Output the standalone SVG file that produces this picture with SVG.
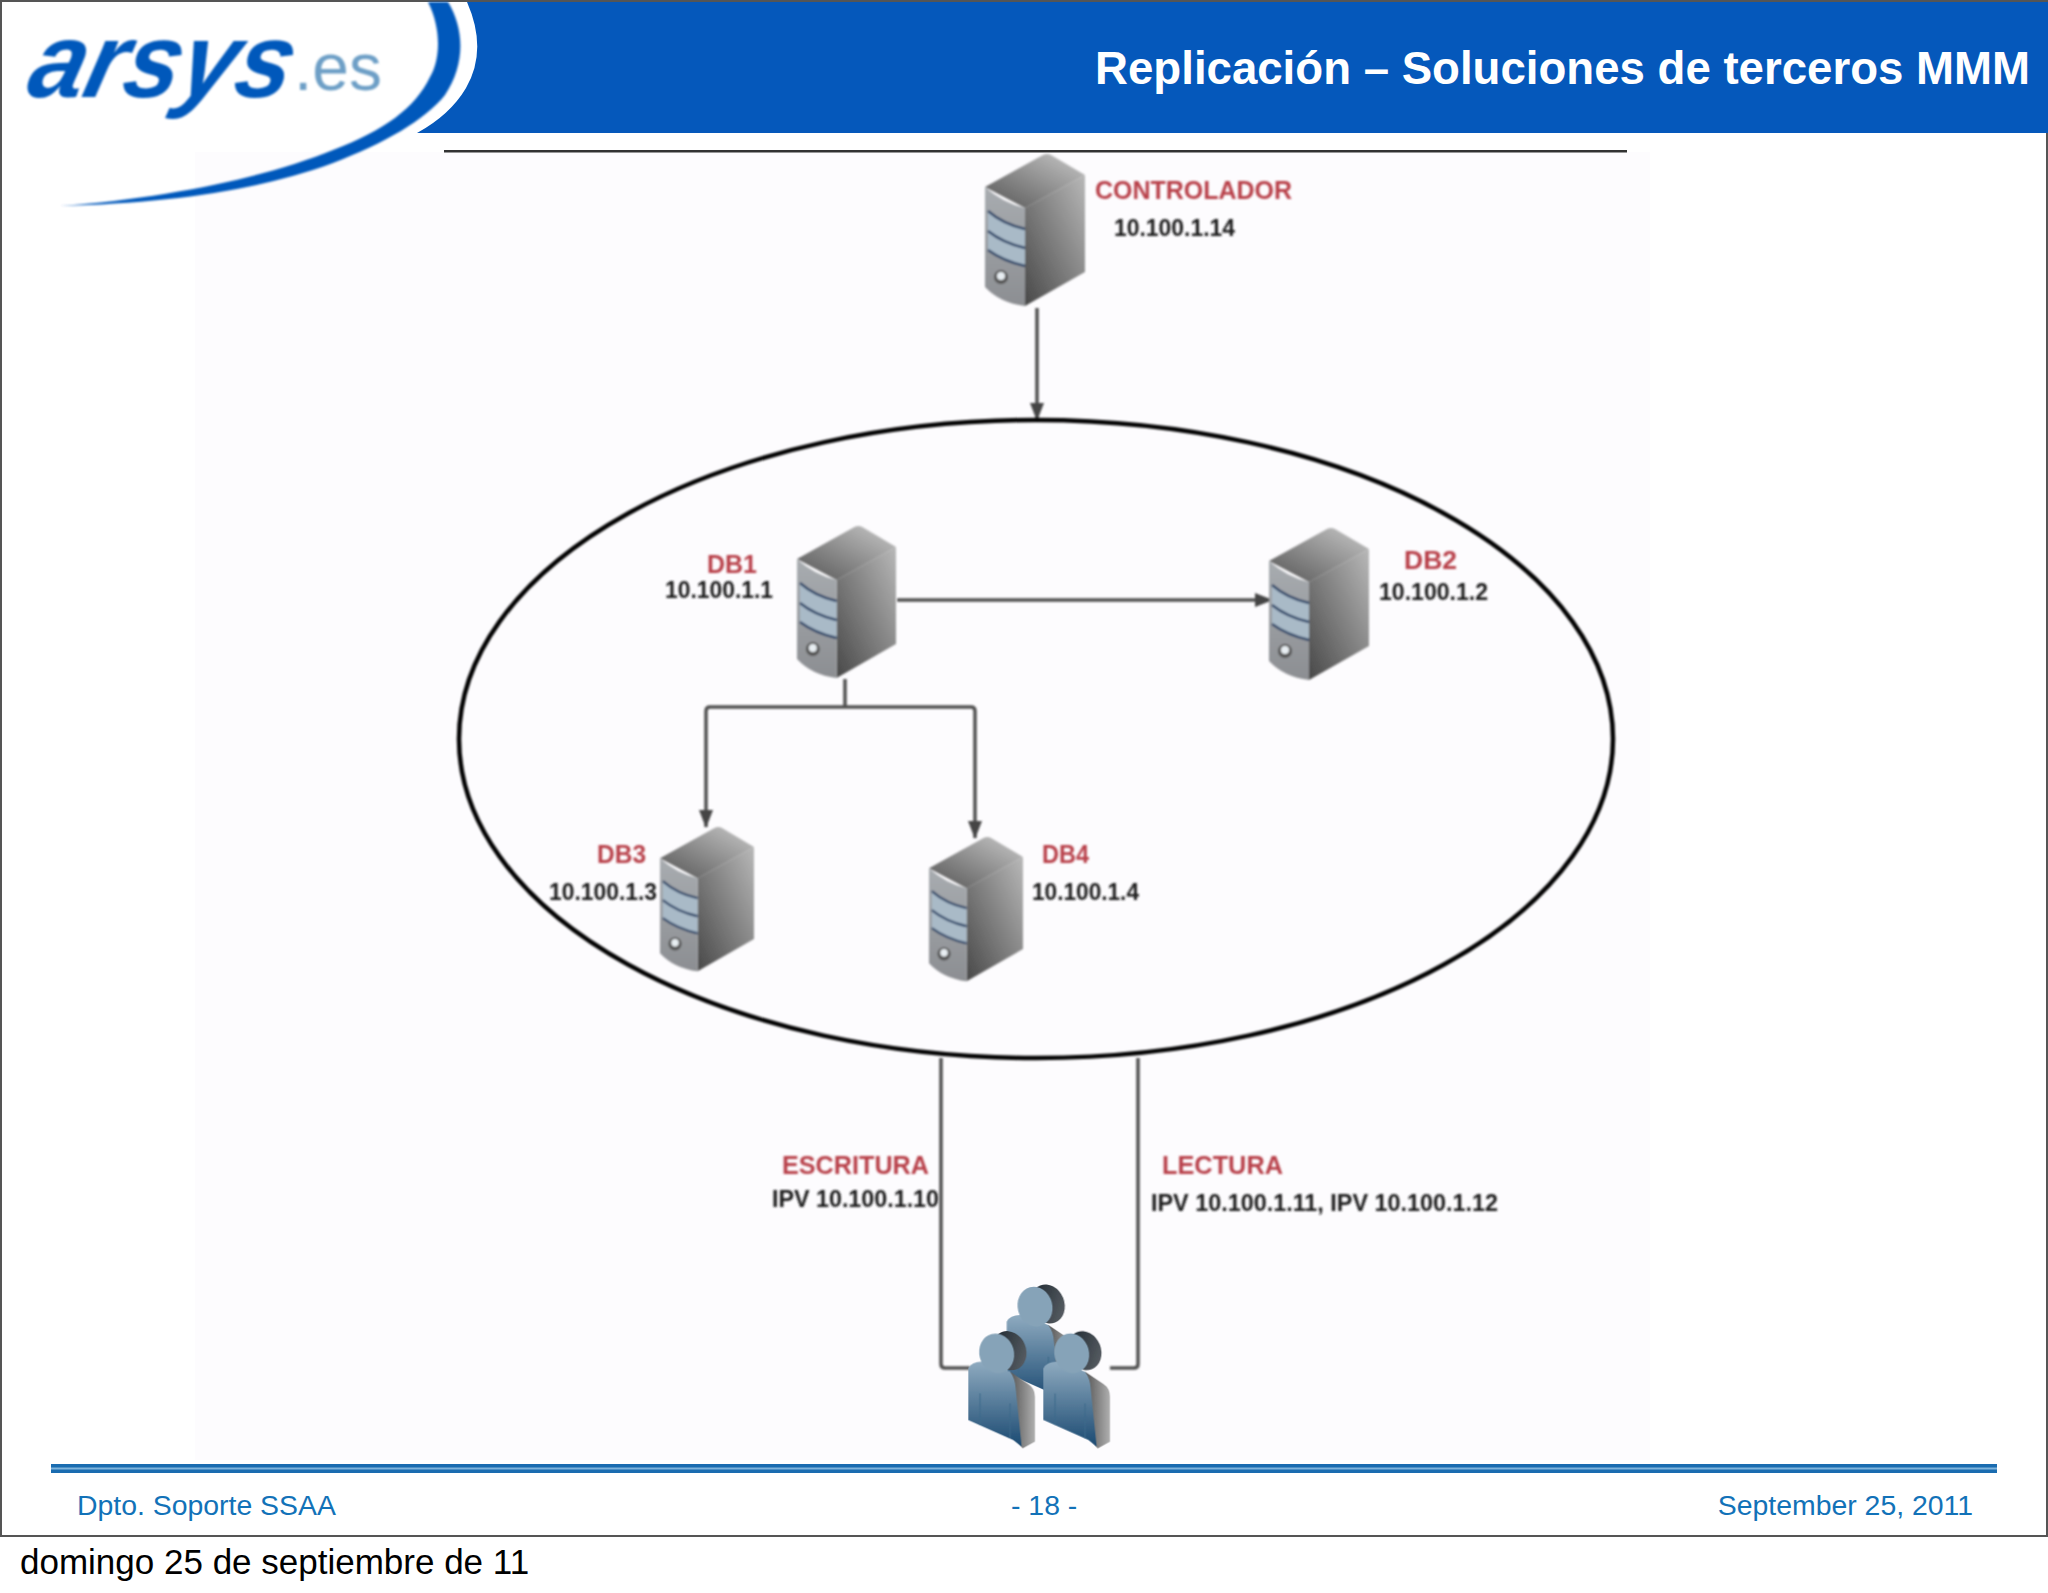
<svg xmlns="http://www.w3.org/2000/svg" xmlns:xlink="http://www.w3.org/1999/xlink" width="2048" height="1593" viewBox="0 0 2048 1593">
<style>
text{font-family:"Liberation Sans",Arial,sans-serif}
.r{fill:#b8404a;font-weight:700;font-size:26px}
.b{fill:#1c1c1c;font-weight:700;font-size:23px}
.f{fill:#1272b8;font-size:28.4px}
.c{fill:none;stroke:#505050;stroke-width:3.5;stroke-linejoin:round}
</style>
<defs>
<filter id="soft" x="-5%" y="-5%" width="110%" height="110%"><feGaussianBlur stdDeviation="0.8"/></filter>
<linearGradient id="top" x1="0" y1="1" x2="1" y2="0"><stop offset="0" stop-color="#555"/><stop offset="1" stop-color="#c8c8c8"/></linearGradient>
<linearGradient id="side" x1="1" y1="0" x2="0" y2="1"><stop offset="0" stop-color="#b8b8b8"/><stop offset="1" stop-color="#484848"/></linearGradient>
<linearGradient id="front" x1="0" y1="0" x2="0" y2="1"><stop offset="0" stop-color="#a8acb0"/><stop offset="1" stop-color="#8c8e92"/></linearGradient>
<linearGradient id="pf" x1="0" y1="0" x2="0" y2="1"><stop offset="0" stop-color="#8fabc0"/><stop offset="1" stop-color="#1b4a72"/></linearGradient>
<linearGradient id="ps" x1="0" y1="0" x2="1" y2="0"><stop offset="0" stop-color="#555"/><stop offset="1" stop-color="#b0b0b0"/></linearGradient>
<linearGradient id="ph" x1="0" y1="0" x2="1" y2="1"><stop offset="0" stop-color="#18232c"/><stop offset="1" stop-color="#60656a"/></linearGradient>
<marker id="arrow" viewBox="0 0 18 16" refX="17" refY="8" markerWidth="18" markerHeight="16" markerUnits="userSpaceOnUse" orient="auto"><path d="M0,1 L18,8 L0,15 Z" fill="#444"/></marker>
<g id="server">
<path d="M0,34 L58,2 Q62,0 66,2 L100,22 L40,55 Z" fill="url(#top)"/>
<path d="M40,55 L100,22 L100,119 L40,153 Z" fill="url(#side)"/>
<path d="M0,34 Q18,50 40,55 L40,153 Q15,150 0,134 Z" fill="url(#front)"/>
<path d="M3,58 Q18,71 40,76 L40,113 Q18,108 3,97 Z" fill="#a9bac7"/>
<path d="M3,58 Q18,71 40,76 M3,78 Q18,90 40,95 M3,97 Q18,108 40,113" fill="none" stroke="#2c4468" stroke-width="2.5"/>
<circle cx="16" cy="124" r="7" fill="#555"/><circle cx="16" cy="123" r="4" fill="#e8eef2"/>
</g>
<g id="person">
<ellipse cx="328" cy="272" rx="50" ry="60" transform="rotate(-22 328 272)" fill="url(#ph)"/>
<path d="M330,335 L385,372 Q405,385 405,410 L405,545 L368,565 L345,540 Z" fill="url(#ps)"/>
<path d="M205,325 Q215,305 245,305 L330,335 Q345,355 347,385 L365,560 L340,540 L205,480 Z" fill="url(#pf)"/>
<ellipse cx="290" cy="280" rx="52" ry="60" transform="rotate(-15 290 280)" fill="#86a3b8"/>
<path d="M240,400 V495 M330,430 V535" fill="none" stroke="#3d6a8c" stroke-width="5" opacity=".6"/>
</g>
</defs>
<rect width="2048" height="1593" fill="#fff"/>
<rect x="195" y="152" width="1455" height="1308" fill="#fdfcfe"/>
<g id="frame">
<rect x="1" y="1" width="2046" height="1535" fill="none" stroke="#555" stroke-width="2"/>
</g>
<g id="header">
<path d="M467,2 Q488,50 466,88 Q450,115 417,133 L2048,133 L2048,2 Z" fill="#0558bb"/>
<text x="2030" y="84" text-anchor="end" font-size="45.6" font-weight="700" fill="#fff">Replicación – Soluciones de terceros MMM</text>
<rect x="444" y="150" width="1183" height="2.5" fill="#333"/>
</g>
<g id="logo" filter="url(#soft)">
<path d="M428,2 C442,30 440,60 430,77 C415,108 385,130 333,150 C270,176 170,198 60,206 C170,203 260,190 333,163 C385,143 425,120 445,95 C465,65 465,30 448,2 Z" fill="#0558bb"/>
<text x="0" y="0" transform="translate(24,97) skewX(-14)" font-size="106" font-weight="700" font-style="italic" fill="#0558bb" textLength="262" lengthAdjust="spacingAndGlyphs">arsys</text>
<text x="294" y="90" font-size="66" fill="#6d9fc6" textLength="88" lengthAdjust="spacingAndGlyphs">.es</text>
</g>
<g id="connectors" filter="url(#soft)">
<path class="c" d="M1037,308 V420" marker-end="url(#arrow)"/>
<path class="c" d="M897,600 H1272" marker-end="url(#arrow)"/>
<path class="c" d="M845,679 V707"/>
<path class="c" d="M845,707 H710 Q706,707 706,711 V827" marker-end="url(#arrow)"/>
<path class="c" d="M845,707 H971 Q975,707 975,711 V838" marker-end="url(#arrow)"/>
<path class="c" d="M941,1058 V1364 Q941,1368 945,1368 H970"/>
<path class="c" d="M1138,1058 V1364 Q1138,1368 1134,1368 H1110"/>
</g>
<g id="ring" filter="url(#soft)">
<ellipse cx="1036" cy="739" rx="577" ry="319" fill="none" stroke="#050505" stroke-width="4.5"/>
</g>
<g id="node-controlador" filter="url(#soft)">
<use xlink:href="#server" href="#server" transform="translate(985,153)"/>
<text class="r" x="1095" y="199" textLength="197" lengthAdjust="spacingAndGlyphs">CONTROLADOR</text>
<text class="b" x="1114" y="236" textLength="121" lengthAdjust="spacingAndGlyphs">10.100.1.14</text>
</g>
<g id="node-db1" filter="url(#soft)">
<use xlink:href="#server" href="#server" transform="translate(797,525) scale(.99,1)"/>
<text class="r" x="707" y="573" textLength="50" lengthAdjust="spacingAndGlyphs">DB1</text>
<text class="b" x="665" y="598" textLength="108" lengthAdjust="spacingAndGlyphs">10.100.1.1</text>
</g>
<g id="node-db2" filter="url(#soft)">
<use xlink:href="#server" href="#server" transform="translate(1269,527)"/>
<text class="r" x="1404" y="569" textLength="53" lengthAdjust="spacingAndGlyphs">DB2</text>
<text class="b" x="1379" y="600" textLength="109" lengthAdjust="spacingAndGlyphs">10.100.1.2</text>
</g>
<g id="node-db3" filter="url(#soft)">
<use xlink:href="#server" href="#server" transform="translate(660,826) scale(.94,.95)"/>
<text class="r" x="597" y="863" textLength="49" lengthAdjust="spacingAndGlyphs">DB3</text>
<text class="b" x="549" y="900" textLength="108" lengthAdjust="spacingAndGlyphs">10.100.1.3</text>
</g>
<g id="node-db4" filter="url(#soft)">
<use xlink:href="#server" href="#server" transform="translate(929,836) scale(.94,.95)"/>
<text class="r" x="1042" y="863" textLength="47" lengthAdjust="spacingAndGlyphs">DB4</text>
<text class="b" x="1032" y="900" textLength="107" lengthAdjust="spacingAndGlyphs">10.100.1.4</text>
</g>
<g id="label-escritura" filter="url(#soft)">
<text class="r" x="782" y="1174" textLength="147" lengthAdjust="spacingAndGlyphs">ESCRITURA</text>
<text class="b" x="772" y="1207" textLength="167" lengthAdjust="spacingAndGlyphs">IPV 10.100.1.10</text>
</g>
<g id="label-lectura" filter="url(#soft)">
<text class="r" x="1162" y="1174" textLength="121" lengthAdjust="spacingAndGlyphs">LECTURA</text>
<text class="b" x="1151" y="1211" textLength="347" lengthAdjust="spacingAndGlyphs">IPV 10.100.1.11, IPV 10.100.1.12</text>
</g>
<g id="node-users" filter="url(#soft)" transform="translate(900,1260) scale(.3333)">
<use xlink:href="#person" href="#person" transform="translate(115,-140)"/>
<use xlink:href="#person" href="#person"/>
<use xlink:href="#person" href="#person" transform="translate(225,0)"/>
</g>
<g id="footer">
<rect x="51" y="1464" width="1946" height="9" fill="#1a6cb0"/>
<rect x="51" y="1467.5" width="1946" height="2" fill="#7fb4dc"/>
<text class="f" x="77" y="1515">Dpto. Soporte SSAA</text>
<text class="f" x="1011" y="1515">- 18 -</text>
<text class="f" x="1973" y="1515" text-anchor="end">September 25, 2011</text>
<text x="20" y="1574" font-size="35" fill="#000">domingo 25 de septiembre de 11</text>
</g>
</svg>
